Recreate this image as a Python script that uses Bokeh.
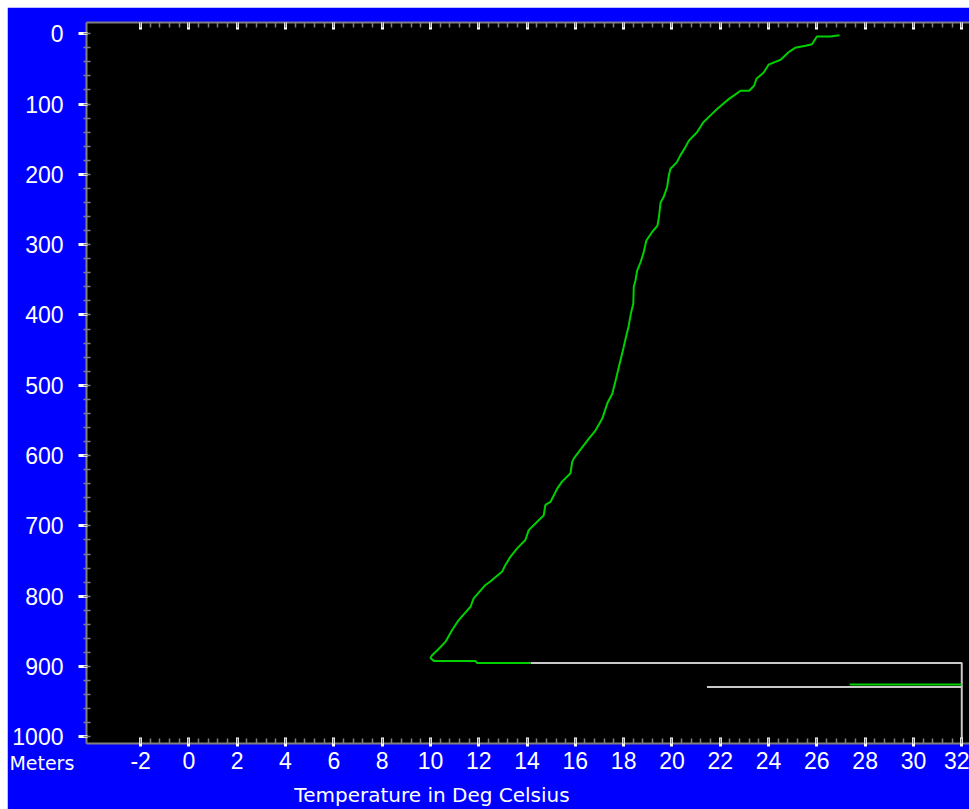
from bokeh.plotting import figure
from bokeh.models import Range1d, FixedTicker, LinearAxis
from bokeh.embed import file_html
from bokeh.resources import INLINE

# Green trace: temperature (deg C) vs depth (m)
green_temp = [26.94, 26.56, 26.0, 25.8, 25.53, 25.1, 24.84, 24.5, 24.0, 23.8, 23.5, 23.4,
              23.2, 22.84, 22.56, 22.35, 21.87, 21.66, 21.3, 21.04, 20.7, 20.56, 20.35, 20.2,
              19.94, 19.87, 19.8, 19.66, 19.53, 19.46, 19.4, 19.18, 18.94, 18.83, 18.7, 18.56,
              18.49, 18.42, 18.4, 18.3, 18.2, 18.1, 18.0, 17.9, 17.8, 17.67, 17.53, 17.32,
              17.12, 16.84, 16.56, 16.29, 15.94, 15.87, 15.8, 15.45, 15.25, 14.97, 14.76, 14.69,
              14.42, 14.07, 13.93, 13.59, 13.31, 13.1, 12.97, 12.48, 12.28, 11.79, 11.66, 11.17,
              10.9, 10.62, 10.34, 10.07, 10.0, 10.14, 11.86, 11.93, 14.14]
green_depth = [2, 4, 4, 15, 17, 20, 26, 37, 44, 55, 64, 74,
               81, 81, 88, 93, 107, 114, 126, 140, 152, 161, 173, 183,
               192, 202, 218, 232, 240, 261, 273, 282, 294, 311, 325, 337,
               351, 360, 384, 398, 417, 431, 446, 460, 474, 493, 512, 526,
               547, 564, 576, 588, 604, 609, 625, 637, 647, 666, 670, 685,
               694, 706, 720, 732, 744, 756, 765, 779, 784, 803, 815, 834,
               848, 865, 875, 884, 888, 892, 892, 895, 895]

# White trace segments
white1_temp = [14.14, 32.0, 32.0]
white1_depth = [895, 895, 1012]
white2_temp = [21.45, 32.0]
white2_depth = [929, 929]

# Second green segment (bottom right)
green2_temp = [27.36, 32.0]
green2_depth = [925.7, 925.7]

x_ticks = [-2, 0, 2, 4, 6, 8, 10, 12, 14, 16, 18, 20, 22, 24, 26, 28, 30, 32]
x_tick_labels = ["-2", "0", "2", "4", "6", "8", "10", "12", "14", "16", "18", "20",
                 "22", "24", "26", "28", "30", "32"]
y_ticks = [0, 100, 200, 300, 400, 500, 600, 700, 800, 900, 1000]
x_minor = [round(-2 + 0.4 * i, 2) for i in range(0, 86)]
y_minor = [20 * i for i in range(0, 51)]

y_title = "Meters"
x_title = "Temperature in Deg Celsius"

p = figure(width=962, height=802, output_backend="svg", toolbar_location=None,
           x_range=Range1d(-4.24, 32.32), y_range=Range1d(1009.5, -16),
           x_axis_location=None, y_axis_location=None,
           min_border_left=79, min_border_top=15, min_border_bottom=66, min_border_right=0)
p.margin = (7, 0, 0, 7)
p.border_fill_color = "#0000FF"
p.background_fill_color = "black"
p.outline_line_color = None
p.xgrid.visible = False
p.ygrid.visible = False
p.extra_x_ranges = {"ytitle": Range1d(0, 1), "xtitle": Range1d(0, 1)}

GRAY = "#808080"
LABEL_FONT = "Liberation Sans"

xt = FixedTicker(ticks=x_ticks, minor_ticks=x_minor)
yt = FixedTicker(ticks=y_ticks, minor_ticks=y_minor)

xb = LinearAxis(ticker=xt)
xb.major_label_overrides = dict(zip(x_ticks, x_tick_labels))
xb.axis_line_color = GRAY
xb.axis_line_width = 2
xb.major_tick_line_color = "white"
xb.major_tick_line_width = 3
xb.major_tick_in = 6
xb.major_tick_out = 3
xb.minor_tick_line_color = GRAY
xb.minor_tick_line_width = 1.5
xb.minor_tick_in = 5
xb.minor_tick_out = 0
xb.major_label_text_color = "white"
xb.major_label_text_font = LABEL_FONT
xb.major_label_text_font_size = "23px"
xb.major_label_standoff = 5
p.add_layout(xb, "below")


def title_axis(range_name, pos, text, size, standoff):
    ax = LinearAxis(x_range_name=range_name, ticker=FixedTicker(ticks=[pos], minor_ticks=[]))
    ax.major_label_overrides = {pos: text}
    ax.axis_line_color = None
    ax.major_tick_line_color = None
    ax.minor_tick_line_color = None
    ax.major_tick_in = 0
    ax.major_tick_out = 0
    ax.minor_tick_in = 0
    ax.minor_tick_out = 0
    ax.major_label_text_color = "white"
    ax.major_label_text_font = "DejaVu Sans"
    ax.major_label_text_font_size = size
    ax.major_label_standoff = standoff
    return ax


# "Meters" sits in the tick-label row, just left of the frame (padded with em spaces
# so that its centred label lands left of the frame edge)
p.add_layout(title_axis("ytitle", 0, y_title + "\u2003\u2003\u2003\u2003\u2002\u2009",
                        "19px", -20), "below")
# axis title below the tick labels
p.add_layout(title_axis("xtitle", 0.3913, x_title, "20px", 6), "below")

xa = LinearAxis(ticker=xt)
xa.axis_line_color = GRAY
xa.axis_line_width = 2
xa.major_tick_line_color = "white"
xa.major_tick_line_width = 3
xa.major_tick_in = 7
xa.major_tick_out = 0
xa.minor_tick_line_color = GRAY
xa.minor_tick_line_width = 1.5
xa.minor_tick_in = 5
xa.minor_tick_out = 0
xa.major_label_text_font_size = "0px"
xa.major_label_text_alpha = 0
xa.major_label_standoff = 0
p.add_layout(xa, "above")

yl = LinearAxis(ticker=yt)
yl.axis_line_color = GRAY
yl.axis_line_width = 2
yl.major_tick_line_color = "white"
yl.major_tick_line_width = 3
yl.major_tick_in = 1
yl.major_tick_out = 8
yl.minor_tick_line_color = GRAY
yl.minor_tick_line_width = 1.5
yl.minor_tick_in = 4
yl.minor_tick_out = 3
yl.major_label_text_color = "white"
yl.major_label_text_font = LABEL_FONT
yl.major_label_text_font_size = "23px"
yl.major_label_standoff = 15
p.add_layout(yl, "left")

p.line(white1_temp, white1_depth, line_color="#C8C8C8", line_width=2)
p.line(white2_temp, white2_depth, line_color="#C8C8C8", line_width=2)
p.line(green_temp, green_depth, line_color="#00D000", line_width=2)
p.line(green2_temp, green2_depth, line_color="#00D000", line_width=2)

open("out.html", "w").write(file_html(p, INLINE))
